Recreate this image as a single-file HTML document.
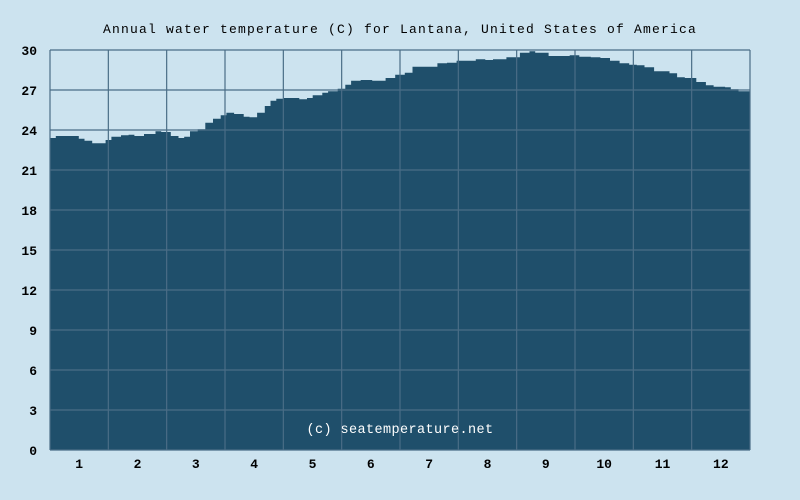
<!DOCTYPE html>
<html><head><meta charset="utf-8"><style>
html,body{margin:0;padding:0;background:#cce3ef;}
svg{display:block;font-family:"Liberation Mono",monospace;}
</style></head><body>
<svg id="chart" width="800" height="500" viewBox="0 0 800 500" xmlns="http://www.w3.org/2000/svg">
<rect x="0" y="0" width="800" height="500" fill="#cce3ef"/>
<text x="400" y="33" text-anchor="middle" font-size="13" letter-spacing="1.2" fill="#000">Annual water temperature (C) for Lantana, United States of America</text>
<g id="plot"></g>
</svg>
<script>
const days=[0,3,6,11,15,18,22,26,29,32,37,41,44,49,55,58,63,67,70,73,77,81,85,89,92,96,101,104,108,112,115,118,122,130,134,137,142,145,150,154,157,162,168,172,175,180,185,189,202,207,212,222,227,231,238,245,250,253,260,265,271,276,282,287,292,297,302,306,310,315,323,327,331,337,342,346,352,355,359,365];
const temps=[23.4,23.55,23.55,23.55,23.35,23.2,23.0,23.0,23.25,23.5,23.6,23.65,23.55,23.7,23.9,23.85,23.55,23.4,23.5,23.9,24.05,24.55,24.85,25.1,25.3,25.2,25.0,24.95,25.3,25.8,26.2,26.35,26.4,26.3,26.4,26.6,26.8,26.9,27.1,27.4,27.7,27.75,27.7,27.7,27.9,28.15,28.3,28.75,29.0,29.05,29.2,29.3,29.25,29.3,29.45,29.8,29.9,29.8,29.55,29.55,29.6,29.5,29.45,29.4,29.2,29.0,28.9,28.85,28.7,28.4,28.25,27.95,27.9,27.6,27.35,27.25,27.2,27.05,26.9,26.7,26.6,26.5,26.25,25.95,25.7,25.6];
const yTicks=[0,3,6,9,12,15,18,21,24,27,30];
const months=["1","2","3","4","5","6","7","8","9","10","11","12"];
const X0=50,X1=750,Y0=450,Y1=50;
const xs=d=>X0+d/365*(X1-X0);
const ys=v=>Y0-v/30*(Y0-Y1);
const NS="http://www.w3.org/2000/svg";
const g=document.getElementById('plot');
function mk(t,a){const e=document.createElementNS(NS,t);for(const k in a)e.setAttribute(k,a[k]);g.appendChild(e);return e;}
const n=Math.min(days.length,temps.length);
let d=`M${X0},${Y0}`;
for(let i=0;i<n;i++){const xa=xs(days[i]);const xb=i<n-1?xs(days[i+1]):X1;const y=ys(temps[i]);d+=` L${xa.toFixed(1)},${y.toFixed(1)} L${xb.toFixed(1)},${y.toFixed(1)}`;}
d+=` L${X1},${Y0} Z`;
const area=mk('path',{d:d,fill:'#1f4f6b'});


yTicks.forEach(v=>{
  const l=mk('line',{x1:X0,x2:X1,y1:ys(v),y2:ys(v),stroke:'#4a6d86','stroke-width':1.2});
  
  
  const t=mk('text',{x:37,y:ys(v)+5,'text-anchor':'end','font-size':13,'font-weight':'bold',fill:'#000'});
  t.textContent=v;
  
  
});
const mw=(X1-X0)/months.length;
for(let i=0;i<=months.length;i++){
  const l=mk('line',{x1:X0+i*mw,x2:X0+i*mw,y1:Y1,y2:Y0,stroke:'#4a6d86','stroke-width':1.2});
  
  
}
months.forEach((m,i)=>{
  const t=mk('text',{x:X0+(i+0.5)*mw,y:468,'text-anchor':'middle','font-size':13,'font-weight':'bold',fill:'#000'});
  t.textContent=m;
  
  
});
const c=mk('text',{x:400,y:433,'text-anchor':'middle','font-size':13.5,'letter-spacing':0.4,fill:'#ffffff'});
c.textContent='(c) seatemperature.net';


</script>
</body></html>
